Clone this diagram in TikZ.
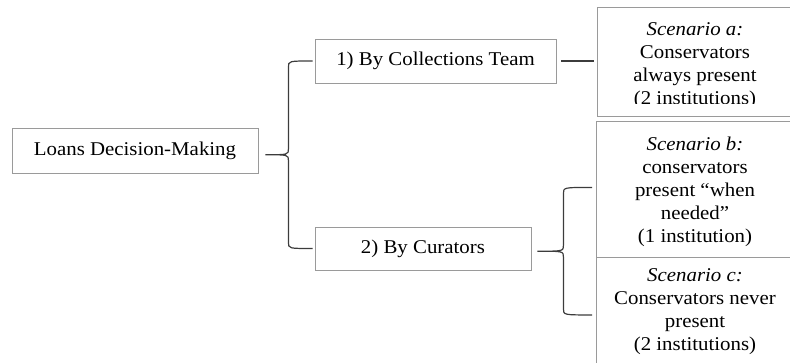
\documentclass[tikz,border=0pt]{standalone}
\usepackage{fontspec}
\setmainfont{Liberation Serif}[FakeStretch=1.07]
\usetikzlibrary{calc}
\definecolor{boxline}{HTML}{9A9A9A}
\definecolor{bracket}{HTML}{3C3C3C}
\tikzset{
  txt/.style={font=\fontsize{19.5}{23}\selectfont, text=black},
  box/.style={draw=boxline, line width=0.9pt, fill=white, inner sep=0pt, txt},
  scen/.style={box, minimum width=197pt, anchor=north west},
  scentext/.style={txt, align=center, inner sep=0pt, anchor=north},
  brace/.style={draw=bracket, line width=1.2pt},
}
\begin{document}
\begin{tikzpicture}[x=1pt,y=-1pt]
\useasboundingbox (0,0) rectangle (790,363);
\clip (0,0) rectangle (790,363);

% main boxes
\node[box, minimum width=246pt, minimum height=45pt] (loans) at (135,150.5) {Loans Decision-Making};
\node[box, minimum width=241pt, minimum height=44pt] (coll) at (435.5,61) {1) By Collections Team};
\node[box, minimum width=216pt, minimum height=43pt] (cur) at (423,248.5) {2) By Curators};

% scenario boxes
\node[scen, minimum height=109pt] (scena) at (597,7) {};
\node[scen, minimum height=136pt] (scenb) at (596,121) {};
\node[scen, minimum height=109pt] (scenc) at (596,257) {};

% scenario texts (last lines cut by the box margin)
\begin{scope}
  \clip (596,7) rectangle (793,104);
  \node[scentext] (texta) at (695,22) {\textit{Scenario a:}\\Conservators\\always present\\(2 institutions)};
\end{scope}
\node[scentext] (textb) at (695,137) {\textit{Scenario b:}\\conservators\\present “when\\needed”\\(1 institution)};
\begin{scope}
  \clip (596,257) rectangle (793,357);
  \node[scentext] (textc) at (695,268) {\textit{Scenario c:}\\Conservators never\\present\\(2 institutions)};
\end{scope}

% straight link
\draw[brace] ([xshift=5pt]coll.east) -- ([xshift=-3pt]coll.east -| scena.west);

% first brace
\coordinate (a1) at ([xshift=-2pt]coll.west);
\coordinate (a2) at ([xshift=-2pt]cur.west);
\coordinate (m1) at ($(a1)!0.5!(a2)$);
\coordinate (s1) at ([xshift=30pt]loans.east);
\coordinate (e1) at ([xshift=7pt]loans.east);
\coordinate (t1) at (e1 |- m1);
\draw[brace] (a1) .. controls (a1 -| s1) .. ($(a1 -| s1)+(0,6)$)
  -- ($(t1 -| s1)+(0,-6)$) .. controls (t1 -| s1) .. (t1)
  .. controls (t1 -| s1) .. ($(t1 -| s1)+(0,6)$)
  -- ($(a2 -| s1)+(0,-6)$) .. controls (a2 -| s1) .. (a2);

% second brace
\coordinate (b1) at ([xshift=-4pt,yshift=2pt]scenb.west);
\coordinate (b2) at ([xshift=-4pt,yshift=-3pt]scenc.west);
\coordinate (m2) at ($(b1)!0.5!(b2)$);
\coordinate (s2) at ([xshift=32pt]cur.east);
\coordinate (e2) at ([xshift=6pt]cur.east);
\coordinate (t2) at (e2 |- m2);
\draw[brace] (b1) .. controls (b1 -| s2) .. ($(b1 -| s2)+(0,6)$)
  -- ($(t2 -| s2)+(0,-6)$) .. controls (t2 -| s2) .. (t2)
  .. controls (t2 -| s2) .. ($(t2 -| s2)+(0,6)$)
  -- ($(b2 -| s2)+(0,-6)$) .. controls (b2 -| s2) .. (b2);
\end{tikzpicture}
\end{document}
